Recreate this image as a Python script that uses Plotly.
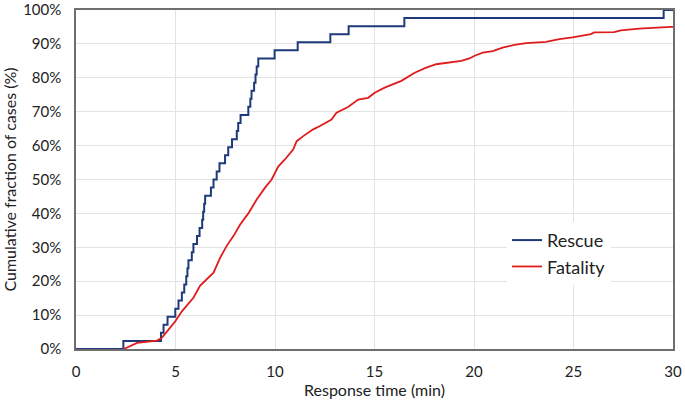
import plotly.graph_objects as go

# Rescue: sorted response times (min) of the 42 rescue cases
rescue_times = [2.38, 4.27, 4.40, 4.60, 4.99, 5.15, 5.32, 5.44, 5.54, 5.60,
                5.65, 5.82, 5.90, 6.08, 6.21, 6.34, 6.39, 6.44, 6.49, 6.78,
                6.91, 7.07, 7.21, 7.49, 7.65, 7.84, 8.08, 8.15, 8.27, 8.66,
                8.76, 8.82, 8.95, 9.02, 9.08, 9.16, 9.98, 11.14, 12.78, 13.70,
                16.50, 29.53]

# Fatality: cumulative curve
fatal_time = [2.4, 3.07, 4.07, 4.3, 4.65, 4.99, 5.32, 5.65, 5.9, 6.24,
              6.58, 6.91, 7.24, 7.58, 7.91, 8.25, 8.66, 9.08, 9.5, 9.83,
              10.17, 10.5, 10.92, 11.09, 11.42, 11.92, 12.26, 12.84, 13.09, 13.67,
              14.18, 14.68, 15.01, 15.51, 16.35, 17.02, 17.6, 18.1, 19.36, 19.77,
              20.03, 20.44, 20.94, 21.44, 22.03, 22.62, 23.62, 24.29, 24.95, 25.87,
              26.04, 27.04, 27.38, 28.3, 29.9, 30.0]
fatal_pct = [0.0, 1.8, 2.5, 3.2, 5.7, 8.2, 11.1, 13.4, 15.1, 18.7,
             20.5, 22.5, 26.9, 30.5, 33.3, 36.7, 40.0, 44.1, 47.6, 50.0,
             53.9, 55.9, 58.9, 61.3, 62.8, 64.8, 65.8, 67.7, 69.7, 71.4,
             73.6, 74.1, 75.6, 77.1, 79.1, 81.5, 83.0, 84.0, 85.0, 85.7,
             86.5, 87.4, 87.9, 88.9, 89.7, 90.2, 90.6, 91.4, 91.9, 92.9,
             93.4, 93.5, 94.0, 94.5, 95.0, 95.0]

n = len(rescue_times)
rescue_x = [0] + rescue_times + [30]
rescue_y = [0] + [100 * (i + 1) / n for i in range(n)] + [100]

FONT = "Lato"

fig = go.Figure()
fig.add_trace(go.Scatter(x=rescue_x, y=rescue_y, mode="lines", name="Rescue",
                         line=dict(color="#1f3a7a", width=2, shape="hv")))
fig.add_trace(go.Scatter(x=fatal_time, y=fatal_pct, mode="lines", name="Fatality",
                         line=dict(color="#e01b1b", width=1.8)))

fig.update_layout(
    width=685, height=407,
    margin=dict(l=76, r=12, t=10, b=58),
    paper_bgcolor="white",
    plot_bgcolor="white",
    font=dict(family=FONT, size=14, color="#222222"),
    xaxis=dict(
        range=[0, 30], dtick=5, tick0=0, automargin=False,
        showgrid=True, gridcolor="#e3e3e3", gridwidth=1,
        showline=True, linecolor="#6e6e6e", linewidth=1.5, mirror=True,
        ticks="", zeroline=False, ticklabelstandoff=8,
        ticklabeloverflow="allow",
        tickfont=dict(size=15),
        title=dict(text="Response time (min)", font=dict(size=16), standoff=4),
    ),
    yaxis=dict(
        range=[0, 100], dtick=10, tick0=0, ticksuffix="%", automargin=False,
        showgrid=True, gridcolor="#e3e3e3", gridwidth=1,
        showline=True, linecolor="#6e6e6e", linewidth=1.5, mirror=True,
        ticks="", zeroline=False, ticklabelstandoff=10,
        ticklabeloverflow="allow",
        tickfont=dict(size=15),
        title=dict(text="Cumulative fraction of cases (%)", font=dict(size=16), standoff=6),
    ),
    legend=dict(
        x=0.722, y=0.375, xanchor="left", yanchor="top",
        bgcolor="white", borderwidth=0,
        font=dict(size=18, color="#222222"),
        itemwidth=30, tracegroupgap=0,
    ),
)

# drop the default 8px body margin so the figure sits at the window corner
fig.write_html("out.html", config={"displayModeBar": False},
               post_script="document.body.style.margin='0';document.body.style.overflow='hidden';")
